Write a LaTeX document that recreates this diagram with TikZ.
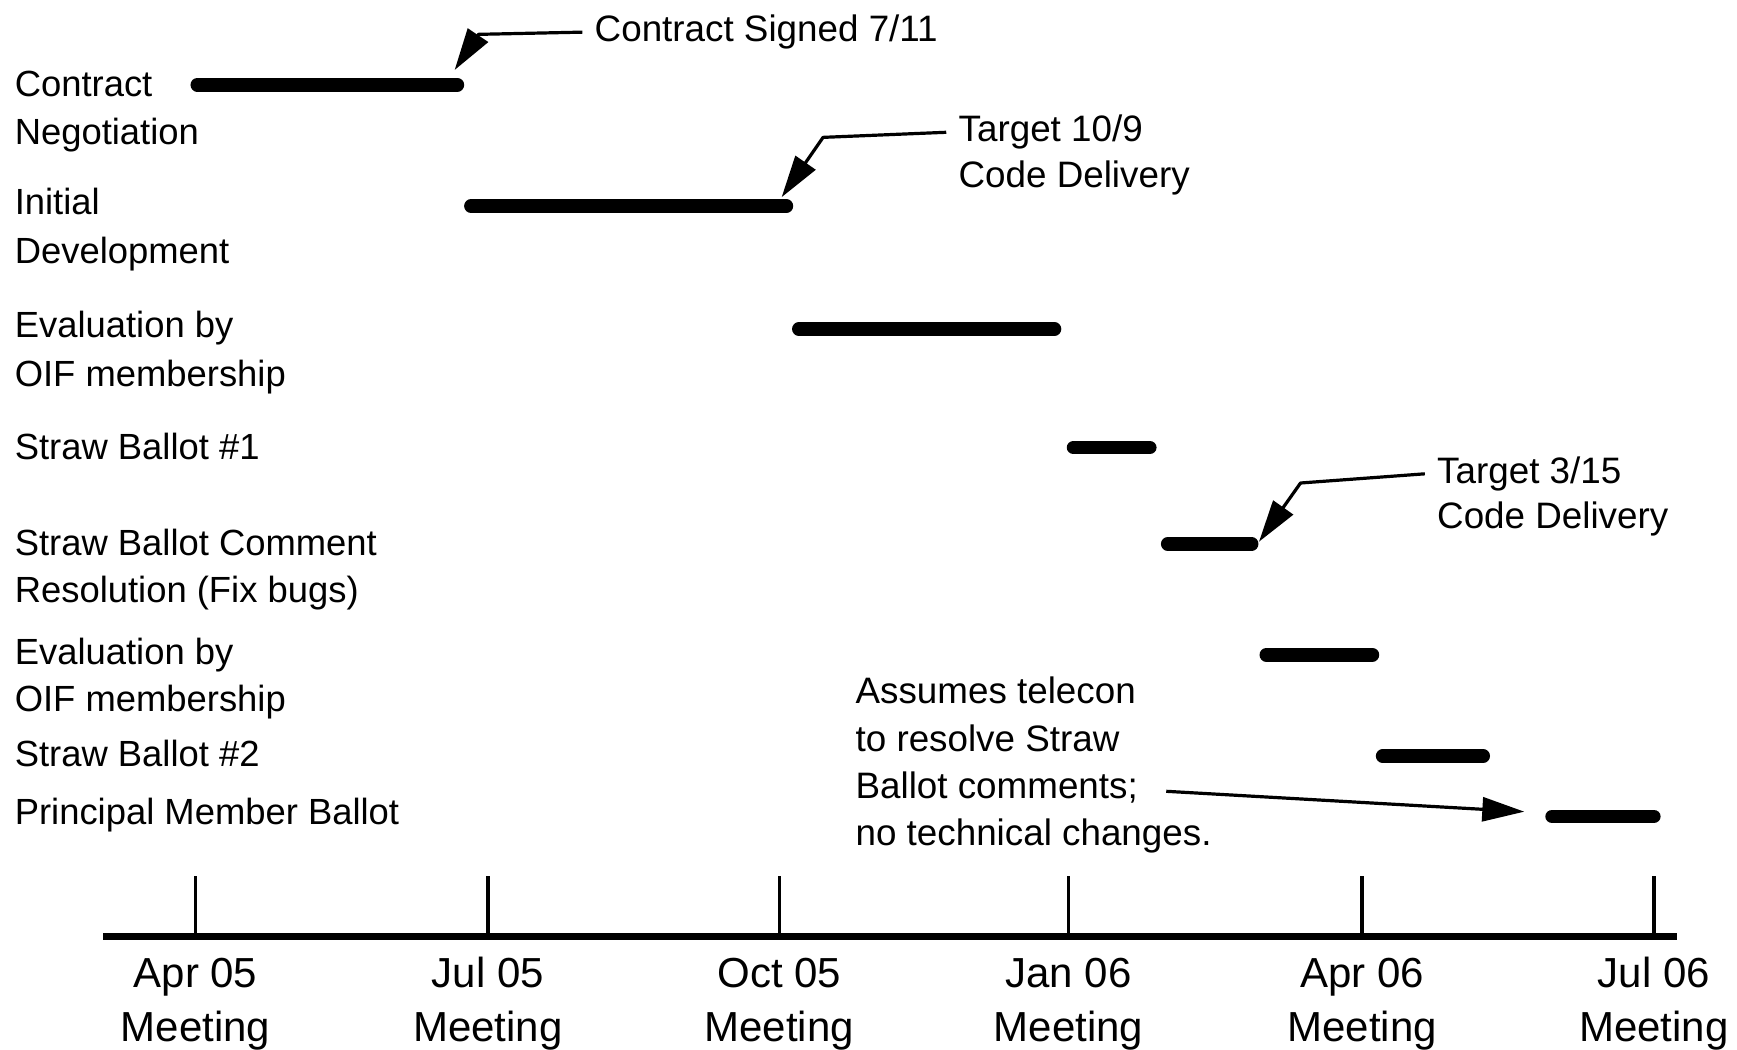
\documentclass[tikz,border=0pt]{standalone}
\usepackage{fontspec}
\setmainfont{Liberation Sans}
\usetikzlibrary{arrows.meta}
\begin{document}
\begin{tikzpicture}[x=0.5539pt, y=-0.5539pt,
  lbl/.style={anchor=base west, inner sep=0pt, font=\fontsize{18.2}{22}\selectfont},
  note/.style={anchor=base west, inner sep=0pt, font=\fontsize{18.4}{22}\selectfont},
  axlbl/.style={anchor=base, inner sep=0pt, font=\fontsize{21}{25}\selectfont},
  bar/.style={line width=6.8pt, line cap=round},
  axisline/.style={line width=3.3pt},
  tickline/.style={line width=1.7pt},
  callout/.style={line width=1.6pt, line join=round, -{Triangle[length=21pt,width=12pt]}},
]
\useasboundingbox (0,0) rectangle (1568,947);

% task labels
\node[lbl] (l1a) at (13,86.7) {Contract};
\node[lbl] (l1b) at (13,130.3) {Negotiation};
\node[lbl] (l2a) at (13,194) {Initial};
\node[lbl] (l2b) at (13,237.6) {Development};
\node[lbl] (l3a) at (13,305) {Evaluation by};
\node[lbl] (l3b) at (13,349) {OIF membership};
\node[lbl] (l4a) at (13,415.2) {Straw Ballot \#1};
\node[lbl] (l5a) at (13,501) {Straw Ballot Comment};
\node[lbl] (l5b) at (13,544) {Resolution (Fix bugs)};
\node[lbl] (l6a) at (13,599.7) {Evaluation by};
\node[lbl] (l6b) at (13,642.4) {OIF membership};
\node[lbl] (l7a) at (13,692) {Straw Ballot \#2};
\node[lbl] (l8a) at (13,744.7) {Principal Member Ballot};

% bars
\coordinate (b1s) at (178.1,76.5);  \coordinate (b1e) at (412.9,76.5);
\coordinate (b2s) at (425.1,186);   \coordinate (b2e) at (709.9,186);
\coordinate (b3s) at (721.1,297);   \coordinate (b3e) at (951.9,297);
\coordinate (b4s) at (969.1,404);   \coordinate (b4e) at (1037.9,404);
\coordinate (b5s) at (1054.1,491);  \coordinate (b5e) at (1129.9,491);
\coordinate (b6s) at (1143.1,591);  \coordinate (b6e) at (1238.9,591);
\coordinate (b7s) at (1248.1,682.5);\coordinate (b7e) at (1338.9,682.5);
\coordinate (b8s) at (1401.1,737);  \coordinate (b8e) at (1492.9,737);
\foreach \i in {1,...,8} { \draw[bar] (b\i s) -- (b\i e); }

% callouts
\node[note] (cs) at (536.5,37.6) {Contract Signed 7/11};
\coordinate (csElbow) at (432,31);
\coordinate (csTip) at (410.4,63.2);
\draw[callout] ([xshift=-6pt]cs.west) -- (csElbow) -- (csTip);

\node[note] (t1a) at (865,128) {Target 10/9};
\node[note] (t1b) at (865,169) {Code Delivery};
\coordinate (t1Elbow) at (743,124);
\coordinate (t1Tip) at (705.6,178);
\draw[callout] ([xshift=-6pt]t1a.west) -- (t1Elbow) -- (t1Tip);

\node[note] (t2a) at (1297,436.3) {Target 3/15};
\node[note] (t2b) at (1297,477) {Code Delivery};
\coordinate (t2Elbow) at (1174,436);
\coordinate (t2Tip) at (1136.5,489);
\draw[callout] ([xshift=-6pt]t2a.west) -- (t2Elbow) -- (t2Tip);

\node[note] (tc1) at (772,635) {Assumes telecon};
\node[note] (tc2) at (772,678) {to resolve Straw};
\node[note] (tc3) at (772,720.6) {Ballot comments;};
\node[note] (tc4) at (772,762.8) {no technical changes.};
\coordinate (tcTip) at (1376,732.7);
\draw[callout] ([xshift=14pt,yshift=-2pt]tc3.east) -- (tcTip);

% time axis
\coordinate (axL) at (93,845.5);
\coordinate (axR) at (1514,845.5);
\foreach \x/\m [count=\i] in {176.5/Apr 05, 440.5/Jul 05, 703.5/Oct 05, 964.5/Jan 06, 1229.5/Apr 06, 1493/Jul 06} {
  \coordinate (tk\i) at (\x,845.5);
  \coordinate (tt\i) at (\x,791);
  \draw[tickline] (tk\i) -- (tt\i);
  \node[axlbl] (ml\i) at (\x,891) {\m};
  \node[axlbl] (mm\i) at (\x,940) {Meeting};
}
\draw[axisline] (axL) -- (axR);
\end{tikzpicture}
\end{document}
